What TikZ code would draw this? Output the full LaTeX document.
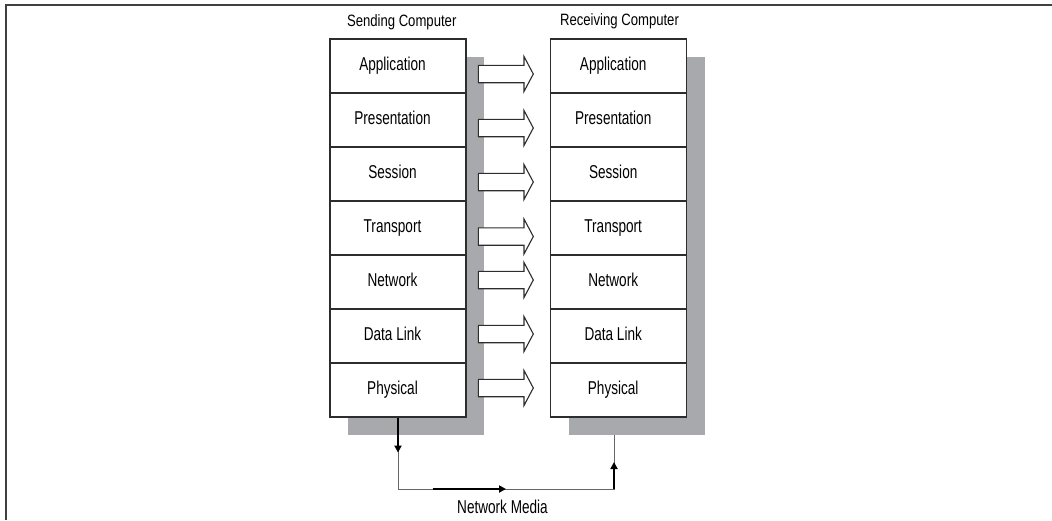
\documentclass[tikz,border=0pt]{standalone}
\usepackage{fontspec}
\setmainfont{Liberation Sans}
\newfontfamily\layerfont[FakeStretch=0.73]{Liberation Sans}
\newfontfamily\titlefont[FakeStretch=0.8]{Liberation Sans}
\usetikzlibrary{arrows.meta,calc}
\definecolor{shadowgray}{RGB}{167,169,172}
\definecolor{boxline}{RGB}{45,45,45}
\begin{document}
\begin{tikzpicture}[x=1pt,y=-1pt,
    osilayer/.style={draw=boxline,line width=1.2pt,fill=white,minimum width=136pt,minimum height=54pt,inner sep=0pt},
    lbl/.style={font={\layerfont\fontsize{18.6pt}{20pt}\selectfont},inner sep=0pt,text height=13.8pt,text depth=3.9pt,xshift=-5.5pt},
    stacktitle/.style={font={\titlefont\fontsize{16.4pt}{18pt}\selectfont},inner sep=0pt},
    blockarrow/.style={draw=boxline,fill=white,line width=1.1pt,line join=miter},
    medialine/.style={draw=black!60,line width=1pt},
    mediaarrow/.style={draw=black,line width=1.8pt,-{Triangle[length=7pt,width=7pt]}},
    outerframe/.style={draw=black!75,line width=1.6pt}]
    \useasboundingbox (0,0) rectangle (1052,520);
    \draw[outerframe] (1052,4.7) -- (5.7,4.7) -- (5.7,520);
    \fill[shadowgray] (348,57) rectangle (484,435);
    \fill[shadowgray] (569,57) rectangle (705,435);
    \foreach \name [count=\i] in {Application,Presentation,Session,Transport,Network,Data Link,Physical} {
      \node[osilayer,label={[lbl]center:\name}] (s\i) at (398,12+54*\i) {};
      \node[osilayer,label={[lbl]center:\name}] (r\i) at (618.7,12+54*\i) {};
    }
    \foreach \y in {74,128,182,236.5,280,334,388}
      \draw[blockarrow] (478.3,\y-8.7) -- (524,\y-8.7) -- (524,\y-17.5) -- (533.3,\y) -- (524,\y+17.5) -- (524,\y+8.7) -- (478.3,\y+8.7) -- cycle;
    \node[stacktitle,anchor=base] (sendtitle) at (401.7,26) {Sending Computer};
    \node[stacktitle,anchor=base] (recvtitle) at (619.5,25) {Receiving Computer};
    \coordinate (m1) at (398,489);
    \coordinate (m2) at (614,489);
    \coordinate (rin) at (614,435);
    \draw[medialine] (s7.south) -- (m1) -- (m2) -- (rin);
    \draw[mediaarrow] (s7.south) -- ($(s7.south)!.49!(m1)$);
    \draw[mediaarrow] ($(m1)!.16!(m2)$) -- ($(m1)!.5!(m2)$);
    \draw[mediaarrow] (m2) -- ($(m2)!.5!(rin)$);
    \node[lbl,xshift=5.5pt,anchor=base] (medialabel) at (502.5,513.3) {Network Media};
  \end{tikzpicture}
\end{document}
